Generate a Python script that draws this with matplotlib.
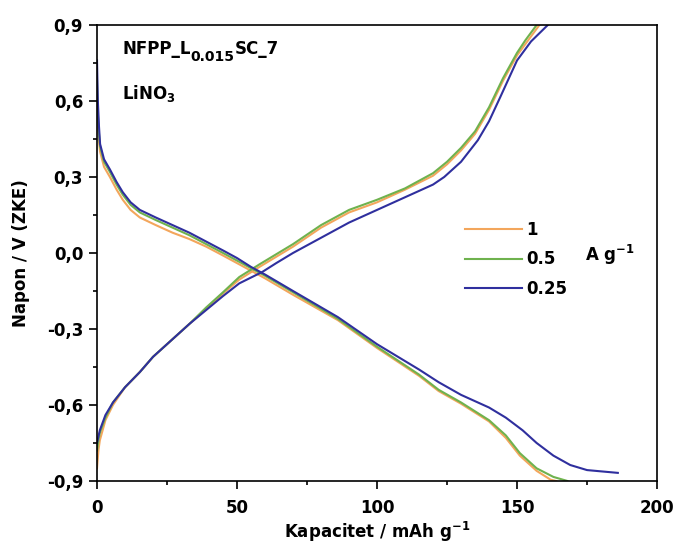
import matplotlib
matplotlib.use('Agg')
import matplotlib.pyplot as plt
from matplotlib.ticker import FuncFormatter, MultipleLocator
from matplotlib.transforms import offset_copy

plt.rcParams['font.family'] = ['DejaVu Sans']
plt.rcParams['font.weight'] = 'bold'
plt.rcParams['mathtext.default'] = 'bf'

rates = ['1', '0.5', '0.25']
colors = ['#f3a65c', '#6fb24e', '#2f2f9e']

# discharge branches (capacity mAh/g, voltage V)
dis_1_cap = [0, 0.3, 0.7, 1.1, 2.5, 4.6, 7, 9.2, 12, 15.3, 21, 27, 33, 39, 45, 50, 55, 60, 70, 86, 100, 115, 122, 130,
             140, 146, 151, 157, 162, 164]
dis_1_v = [0.62, 0.50, 0.44, 0.40, 0.34, 0.30, 0.25, 0.21, 0.17, 0.14, 0.11, 0.08, 0.055, 0.025, -0.01, -0.04, -0.07,
           -0.10, -0.165, -0.265, -0.375, -0.485, -0.545, -0.595, -0.665, -0.73, -0.80, -0.86, -0.895, -0.90]
dis_05_cap = [0, 0.3, 0.7, 1.1, 2.5, 4.6, 7, 9.2, 12, 15.3, 21, 27, 33, 39, 45, 50, 55, 60, 70, 86, 100, 115, 122, 130,
              140, 146, 151, 157, 163, 168]
dis_05_v = [0.68, 0.55, 0.47, 0.42, 0.36, 0.32, 0.27, 0.23, 0.19, 0.16, 0.13, 0.10, 0.07, 0.035, 0.0, -0.03, -0.06,
            -0.09, -0.155, -0.26, -0.37, -0.48, -0.54, -0.59, -0.66, -0.72, -0.79, -0.85, -0.884, -0.90]
dis_025_cap = [0, 0.3, 0.7, 1.1, 2.5, 4.6, 7, 9.2, 12, 15.3, 21, 27, 33, 39, 45, 50, 55, 60, 70, 86, 100, 115, 122, 130,
               140, 146, 152, 157, 163, 169, 175, 186]
dis_025_v = [0.76, 0.60, 0.50, 0.43, 0.37, 0.33, 0.28, 0.24, 0.20, 0.17, 0.14, 0.11, 0.08, 0.045, 0.01, -0.02, -0.055,
             -0.085, -0.15, -0.253, -0.36, -0.46, -0.51, -0.56, -0.61, -0.65, -0.70, -0.75, -0.80, -0.837, -0.857,
             -0.868]

# charge branches
ch_1_cap = [0, 0.5, 1, 3, 5.7, 10, 15.3, 20, 27, 33, 39, 45, 50.8, 58, 64, 70, 80, 90, 100, 110, 120, 125, 130, 135,
            140, 145, 150, 154, 158]
ch_1_v = [-0.85, -0.78, -0.74, -0.66, -0.60, -0.53, -0.47, -0.41, -0.34, -0.28, -0.22, -0.16, -0.105, -0.055, -0.015,
          0.025, 0.10, 0.16, 0.20, 0.25, 0.305, 0.35, 0.405, 0.47, 0.565, 0.68, 0.78, 0.84, 0.90]
ch_05_cap = [0, 0.5, 1, 3, 5.7, 10, 15.3, 20, 27, 33, 39, 45, 50.8, 58, 64, 70, 80, 90, 100, 110, 120, 125, 130, 135,
             140, 145, 150, 153, 157]
ch_05_v = [-0.78, -0.74, -0.71, -0.65, -0.59, -0.53, -0.47, -0.41, -0.34, -0.28, -0.215, -0.155, -0.095, -0.045,
           -0.005, 0.035, 0.11, 0.17, 0.21, 0.255, 0.315, 0.36, 0.415, 0.48, 0.575, 0.69, 0.79, 0.84, 0.90]
ch_025_cap = [0, 1, 3, 5.7, 10, 15.3, 20, 27, 33, 39, 45, 50.8, 59, 64, 70, 80, 90, 100, 110, 120, 124, 130, 136, 140,
              144, 150, 155, 161]
ch_025_v = [-0.75, -0.70, -0.64, -0.59, -0.53, -0.47, -0.41, -0.34, -0.28, -0.225, -0.17, -0.12, -0.075, -0.04,
            0.0, 0.06, 0.12, 0.17, 0.22, 0.27, 0.30, 0.36, 0.445, 0.52, 0.615, 0.76, 0.835, 0.90]

fig = plt.figure(figsize=(6.77, 5.48), dpi=100)
ax = fig.add_axes([0.1433, 0.1223, 0.8272, 0.8321])

dis = [(dis_1_cap, dis_1_v), (dis_05_cap, dis_05_v), (dis_025_cap, dis_025_v)]
ch = [(ch_1_cap, ch_1_v), (ch_05_cap, ch_05_v), (ch_025_cap, ch_025_v)]
for r, c, d, k in zip(rates, colors, dis, ch):
    ax.plot(d[0], d[1], color=c, lw=1.5, label=r)
    ax.plot(k[0], k[1], color=c, lw=1.5)

ax.set_xlim(0, 200)
ax.set_ylim(-0.9, 0.9)
ax.xaxis.set_major_locator(MultipleLocator(50))
ax.xaxis.set_minor_locator(MultipleLocator(25))
ax.yaxis.set_major_locator(MultipleLocator(0.3))
ax.yaxis.set_minor_locator(MultipleLocator(0.15))
ax.yaxis.set_major_formatter(FuncFormatter(lambda v, p: ('%.1f' % v).replace('-0.0', '0.0').replace('.', ',')))
ax.tick_params(which='both', direction='out', top=False, right=False, labelsize=12, width=1.2)
ax.tick_params(which='major', length=6)
ax.tick_params(which='minor', length=3)
ax.tick_params(axis='x', pad=7)
ax.tick_params(axis='y', pad=4)
for s in ax.spines.values():
    s.set_linewidth(1.2)

ax.set_xlabel('Kapacitet / mAh g$^{-1}$', fontsize=12, fontweight='bold', labelpad=2)
ax.set_ylabel('Napon / V (ZKE)', fontsize=12, fontweight='bold', labelpad=12)

# sample name with a large subscript, drawn piece by piece
t1 = ax.text(0.045, 0.967, 'NFPP_L', transform=ax.transAxes, fontsize=12, fontweight='bold', va='top')
fig.canvas.draw()
w1 = t1.get_window_extent().width * 72 / fig.dpi
t2 = ax.text(0.045, 0.967, '0.015', fontsize=10, fontweight='bold', va='top',
             transform=offset_copy(ax.transAxes, fig=fig, x=w1, y=-7, units='points'))
fig.canvas.draw()
w2 = t2.get_window_extent().width * 72 / fig.dpi
ax.text(0.045, 0.967, 'SC_7', fontsize=12, fontweight='bold', va='top',
        transform=offset_copy(ax.transAxes, fig=fig, x=w1 + w2, y=0, units='points'))
ax.text(0.045, 0.873, 'LiNO$_3$', transform=ax.transAxes, fontsize=12, fontweight='bold', va='top')

leg = ax.legend(loc='upper left', bbox_to_anchor=(0.657, 0.57), frameon=False, fontsize=12, borderpad=0,
                borderaxespad=0, handlelength=3.4, handletextpad=0.3, labelspacing=0.68)
ax.text(0.871, 0.496, 'A g$^{-1}$', transform=ax.transAxes, fontsize=12, fontweight='bold', va='center')

fig.savefig('out.png', dpi=100)
